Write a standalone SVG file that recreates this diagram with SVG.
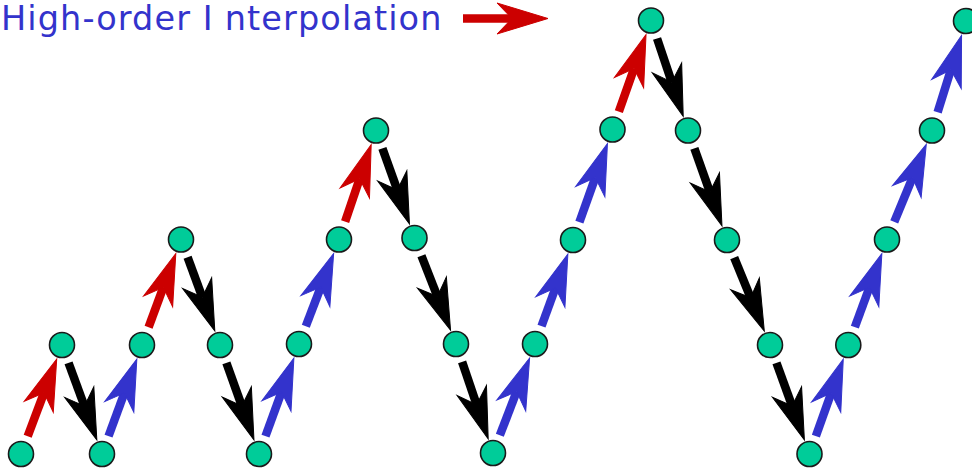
<svg xmlns="http://www.w3.org/2000/svg" width="972" height="470" viewBox="0 0 972 470">
<style>
.node{fill:#00cc99;stroke:#1a1a1a;stroke-width:1.6}
.sh{stroke-width:8.5;fill:none;stroke-linecap:butt}
.red{stroke:#cc0000}
.blk{stroke:#000000}
.blu{stroke:#3333cc}
.red.h{marker-end:url(#mr)}
.blk.h{marker-end:url(#mk)}
.blu.h{marker-end:url(#mb)}
.title{font-family:"DejaVu Sans",sans-serif;font-size:33.5px;fill:#3333cc;letter-spacing:1.1px}
</style>
<defs>
<marker id="mr" markerUnits="userSpaceOnUse" orient="auto" refX="0" refY="0" markerWidth="60" markerHeight="40" viewBox="-20 -20 60 40" overflow="visible">
<path d="M0,0 L-15,-15.5 L36,0 L-15,15.5 Z" fill="#cc0000" stroke="#cc0000" stroke-width="1"/>
</marker>
<marker id="mk" markerUnits="userSpaceOnUse" orient="auto" refX="0" refY="0" markerWidth="60" markerHeight="40" viewBox="-20 -20 60 40" overflow="visible">
<path d="M0,0 L-15,-15.5 L36,0 L-15,15.5 Z" fill="#000000" stroke="#000000" stroke-width="1"/>
</marker>
<marker id="mb" markerUnits="userSpaceOnUse" orient="auto" refX="0" refY="0" markerWidth="60" markerHeight="40" viewBox="-20 -20 60 40" overflow="visible">
<path d="M0,0 L-15,-15.5 L36,0 L-15,15.5 Z" fill="#3333cc" stroke="#3333cc" stroke-width="1"/>
</marker>
</defs>
<g id="title">
<text class="title" x="1" y="29.5">High-order I<tspan dx="11">nterpolation</tspan></text>
</g>
<g id="connectors">
<line class="sh red h" x1="463" y1="18.5" x2="512" y2="18.5"/>
<line class="sh red h" x1="27.69" y1="436.22" x2="44.04" y2="392.74"/>
<line class="sh blk h" x1="68.55" y1="362.84" x2="84.43" y2="406.12"/>
<line class="sh blu h" x1="108.55" y1="436.16" x2="124.43" y2="392.88"/>
<line class="sh red h" x1="148.59" y1="327.18" x2="163.32" y2="287.34"/>
<line class="sh blk h" x1="187.59" y1="257.32" x2="202.32" y2="297.16"/>
<line class="sh blk h" x1="226.40" y1="362.89" x2="241.82" y2="405.98"/>
<line class="sh blu h" x1="265.49" y1="436.14" x2="281.57" y2="391.93"/>
<line class="sh blu h" x1="305.79" y1="326.26" x2="320.77" y2="287.13"/>
<line class="sh red h" x1="345.11" y1="221.51" x2="359.61" y2="178.79"/>
<line class="sh blk h" x1="382.41" y1="148.39" x2="397.30" y2="189.99"/>
<line class="sh blk h" x1="421.43" y1="255.69" x2="437.41" y2="296.51"/>
<line class="sh blk h" x1="462.11" y1="361.99" x2="476.61" y2="404.71"/>
<line class="sh blu h" x1="499.83" y1="435.27" x2="516.66" y2="391.59"/>
<line class="sh blu h" x1="541.52" y1="326.15" x2="555.50" y2="287.90"/>
<line class="sh blu h" x1="579.40" y1="222.11" x2="595.33" y2="177.52"/>
<line class="sh red h" x1="618.83" y1="111.58" x2="634.02" y2="68.59"/>
<line class="sh blk h" x1="657.06" y1="38.51" x2="671.74" y2="82.16"/>
<line class="sh blk h" x1="694.37" y1="148.40" x2="709.89" y2="191.96"/>
<line class="sh blk h" x1="734.20" y1="257.58" x2="750.67" y2="297.80"/>
<line class="sh blk h" x1="776.47" y1="362.86" x2="792.12" y2="406.05"/>
<line class="sh blu h" x1="815.87" y1="436.10" x2="831.19" y2="393.05"/>
<line class="sh blu h" x1="854.84" y1="327.16" x2="869.44" y2="287.38"/>
<line class="sh blu h" x1="894.25" y1="221.94" x2="912.54" y2="177.64"/>
<line class="sh blu h" x1="937.63" y1="112.36" x2="950.88" y2="69.71"/>
</g>
<g id="n1"><circle class="node" cx="21" cy="454" r="12.5"/></g>
<g id="n2"><circle class="node" cx="62" cy="345" r="12.5"/></g>
<g id="n3"><circle class="node" cx="102" cy="454" r="12.5"/></g>
<g id="n4"><circle class="node" cx="142" cy="345" r="12.5"/></g>
<g id="n5"><circle class="node" cx="181" cy="239.5" r="12.5"/></g>
<g id="n6"><circle class="node" cx="220" cy="345" r="12.5"/></g>
<g id="n7"><circle class="node" cx="259" cy="454" r="12.5"/></g>
<g id="n8"><circle class="node" cx="299" cy="344" r="12.5"/></g>
<g id="n9"><circle class="node" cx="339" cy="239.5" r="12.5"/></g>
<g id="n10"><circle class="node" cx="376" cy="130.5" r="12.5"/></g>
<g id="n11"><circle class="node" cx="414.5" cy="238" r="12.5"/></g>
<g id="n12"><circle class="node" cx="456" cy="344" r="12.5"/></g>
<g id="n13"><circle class="node" cx="493" cy="453" r="12.5"/></g>
<g id="n14"><circle class="node" cx="535" cy="344" r="12.5"/></g>
<g id="n15"><circle class="node" cx="573" cy="240" r="12.5"/></g>
<g id="n16"><circle class="node" cx="612.5" cy="129.5" r="12.5"/></g>
<g id="n17"><circle class="node" cx="651" cy="20.5" r="12.5"/></g>
<g id="n18"><circle class="node" cx="688" cy="130.5" r="12.5"/></g>
<g id="n19"><circle class="node" cx="727" cy="240" r="12.5"/></g>
<g id="n20"><circle class="node" cx="770" cy="345" r="12.5"/></g>
<g id="n21"><circle class="node" cx="809.5" cy="454" r="12.5"/></g>
<g id="n22"><circle class="node" cx="848.3" cy="345" r="12.5"/></g>
<g id="n23"><circle class="node" cx="887" cy="239.5" r="12.5"/></g>
<g id="n24"><circle class="node" cx="932" cy="130.5" r="12.5"/></g>
<g id="n25"><circle class="node" cx="966" cy="21" r="12.5"/></g>
</svg>
